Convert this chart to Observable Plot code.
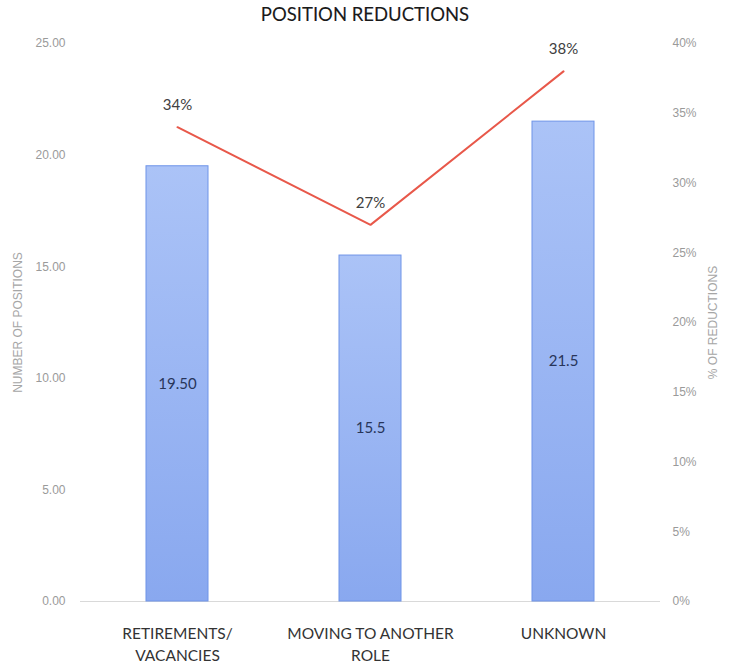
<!DOCTYPE html>
<html>
<head>
<meta charset="utf-8">
<script src="https://cdn.jsdelivr.net/npm/d3@7"></script>
<script src="https://cdn.jsdelivr.net/npm/@observablehq/plot@0.6"></script>
<style>
  html, body { margin: 0; padding: 0; background: #fff; }
  #wrap { width: 730px; }
  #title {
    height: 30px; line-height: 28px; text-align: center;
    font-family: Lato, "Open Sans", sans-serif; font-size: 18.5px; color: #1a1a1a;
    -webkit-text-stroke: 0.1px #1a1a1a;
  }
</style>
</head>
<body>
<div id="wrap">
  <div id="title">POSITION REDUCTIONS</div>
  <div id="chart"></div>
</div>
<script>
// Reasons for position reductions
const categories = ["RETIREMENTS/\nVACANCIES", "MOVING TO ANOTHER\nROLE", "UNKNOWN"];
const positions = [19.5, 15.5, 21.5];
const positionLabels = ["19.50", "15.5", "21.5"];
const reductionShare = [0.34, 0.27, 0.38];

// Axis ticks
const countTicks = [0, 5, 10, 15, 20, 25];
const shareTicks = [0, 0.05, 0.10, 0.15, 0.20, 0.25, 0.30, 0.35, 0.40];

const rows = categories.map((category, i) => ({
  category,
  positions: positions[i],
  label: positionLabels[i],
  share: reductionShare[i]
}));

// Secondary (percentage) axis mapped onto the count scale
const toCount = d3.scaleLinear([0, 0.4], [0, 25]);
const pct = d3.format(".0%");

const axisFont = "'Liberation Sans', Arial, sans-serif";
const labelFont = "Lato, 'Open Sans', sans-serif";

// Vertical gradient used by the bars
function barGradient() {
  const defs = d3.create("svg:defs");
  const g = defs.append("linearGradient")
    .attr("id", "barFill").attr("x1", 0).attr("y1", 0).attr("x2", 0).attr("y2", 1);
  g.append("stop").attr("offset", "0%").attr("stop-color", "#abc3f7");
  g.append("stop").attr("offset", "100%").attr("stop-color", "#89a8ef");
  return defs.node();
}

const chart = Plot.plot({
  width: 730,
  height: 635,
  marginTop: 13,
  marginBottom: 64,
  marginLeft: 80,
  marginRight: 70,
  style: { background: "white", fontFamily: axisFont },
  x: { domain: categories, paddingInner: 0.68, paddingOuter: 0.34, label: null },
  y: { domain: [0, 25], label: null },
  marks: [
    barGradient,
    Plot.axisY(countTicks, {
      anchor: "left", tickSize: 0, tickPadding: 15, label: null,
      tickFormat: d3.format(".2f"), color: "#9a9a9a", fontSize: 12, fontFamily: axisFont
    }),
    Plot.axisY(shareTicks.map(s => toCount(s)), {
      anchor: "right", tickSize: 0, tickPadding: 12, label: null,
      tickFormat: d => pct(toCount.invert(d)), color: "#9a9a9a", fontSize: 12, fontFamily: axisFont
    }),
    Plot.axisX({
      tickSize: 0, tickPadding: 22, label: null, lineHeight: 1.4,
      color: "#333", fontSize: 15.5, fontFamily: labelFont
    }),
    Plot.ruleY([0], { stroke: "#d9d9d9" }),
    Plot.barY(rows, { x: "category", y: "positions", fill: "url(#barFill)", stroke: "#6f94e8", strokeWidth: 1 }),
    Plot.text(rows, {
      x: "category", y: d => d.positions / 2, text: "label",
      fill: "#28355a", fontSize: 15, fontFamily: labelFont
    }),
    Plot.line(rows, { x: "category", y: d => toCount(d.share), stroke: "#e8584a", strokeWidth: 2 }),
    Plot.text(rows, {
      x: "category", y: d => toCount(d.share), text: d => pct(d.share),
      dy: -22, fill: "#404040", fontSize: 15, fontFamily: labelFont
    }),
    Plot.text(["NUMBER OF POSITIONS"], {
      frameAnchor: "left", rotate: -90, dx: -62, text: d => d, textAnchor: "middle",
      fill: "#a6a6a6", fontSize: 12, fontFamily: axisFont
    }),
    Plot.text(["% OF REDUCTIONS"], {
      frameAnchor: "right", rotate: -90, dx: 53, text: d => d, textAnchor: "middle",
      fill: "#a6a6a6", fontSize: 12, fontFamily: axisFont
    })
  ]
});

document.getElementById("chart").appendChild(chart);
</script>
</body>
</html>
